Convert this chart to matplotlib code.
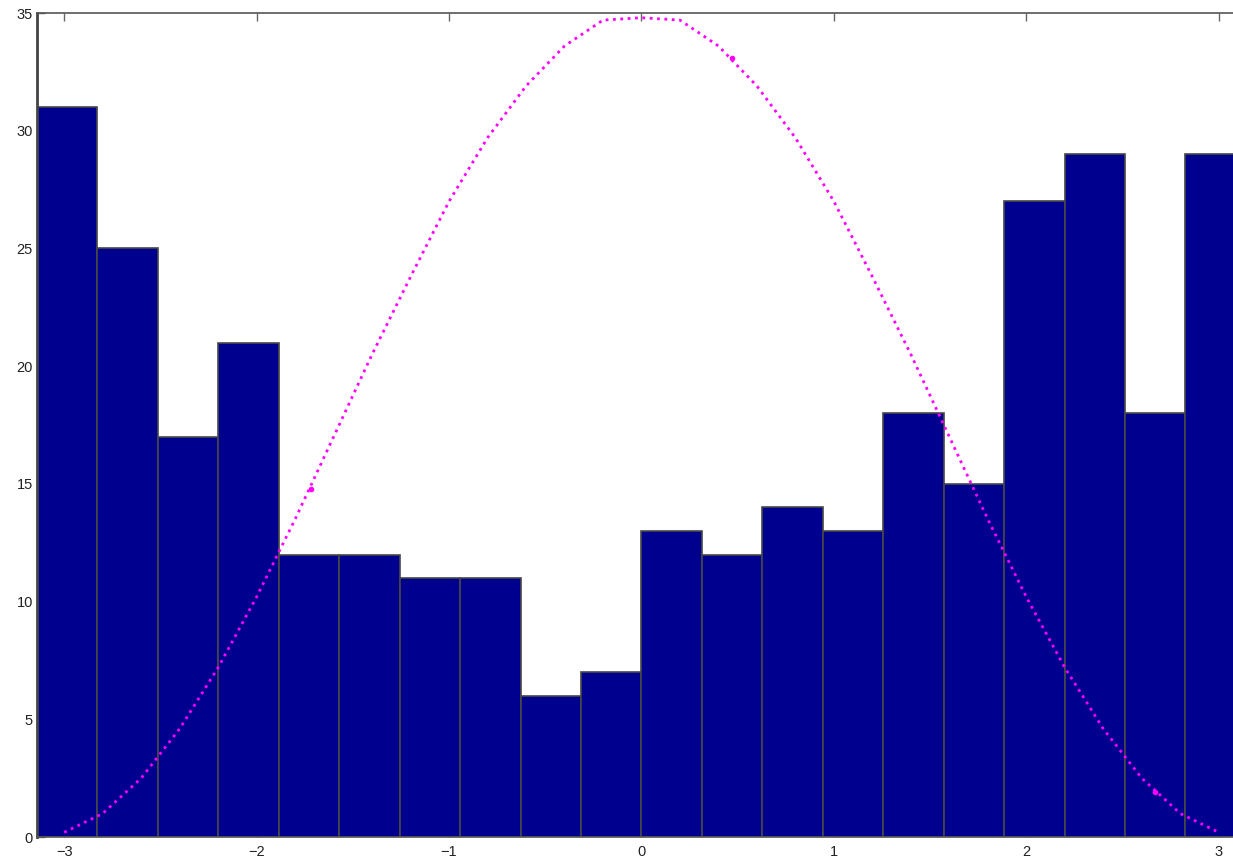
import numpy as np
from matplotlib import pyplot as plt

# histogram counts, 20 bins from -pi to pi
counts = [31, 25, 17, 21, 12, 12, 11, 11, 6, 7,
          13, 12, 14, 13, 18, 15, 27, 29, 18, 29]

# dotted curve
curve_x = [-3.0, -2.8, -2.6, -2.4, -2.2, -2.0, -1.8, -1.6, -1.4, -1.2, -1.0, -0.8,
           -0.6, -0.4, -0.2, 0.0, 0.2, 0.4, 0.6, 0.8, 1.0, 1.2, 1.4, 1.6, 1.8,
           2.0, 2.2, 2.4, 2.6, 2.8, 3.0]
curve_y = [0.2, 1.0, 2.5, 4.6, 7.2, 10.2, 13.5, 17.0, 20.5, 23.8, 27.0, 29.7,
           31.9, 33.6, 34.7, 34.8, 34.7, 33.6, 31.9, 29.7, 27.0, 23.8, 20.5, 17.0, 13.5,
           10.2, 7.2, 4.6, 2.5, 1.0, 0.2]

# bigger dots sitting on the curve
dot_x = [-1.72, 0.47, 2.67]
dot_y = [14.8, 33.1, 1.9]

plt.rcParams['font.family'] = ['Liberation Sans', 'DejaVu Sans']

fig = plt.figure(figsize=(12.33, 8.63), dpi=100)
ax = fig.add_axes([0.030, 0.0301, 0.9805, 0.9548])

n = len(counts)
width = 2 * np.pi / n
edges = -np.pi + width * np.arange(n)
ax.bar(edges, counts, width=width, align='edge', color='#00008F',
       edgecolor='#484848', linewidth=1.2, zorder=2)

ax.plot(curve_x, curve_y, color='#FF00FF', linestyle=':', linewidth=2, zorder=3)
ax.plot(dot_x, dot_y, 'o', color='#FF00FF', markersize=3, zorder=3)

ax.set_xlim(-np.pi, np.pi)
ax.set_ylim(0, 35)
ax.set_xticks(range(-3, 4))
ax.set_xticklabels(['\u22123', '\u22122', '\u22121', '0', '1', '2', '3'])
ax.set_yticks(range(0, 36, 5))

ax.tick_params(direction='in', length=6, width=1, color='#666666',
               labelsize=10.5, labelcolor='#222222', top=True, right=False)
ax.tick_params(axis='x', pad=6)
ax.tick_params(axis='y', pad=3)

for side in ['top', 'bottom']:
    ax.spines[side].set_color('#555555')
    ax.spines[side].set_linewidth(1.2)
ax.spines['left'].set_color('#444444')
ax.spines['left'].set_linewidth(2)
ax.spines['right'].set_visible(False)

fig.savefig('out.png', dpi=100)
